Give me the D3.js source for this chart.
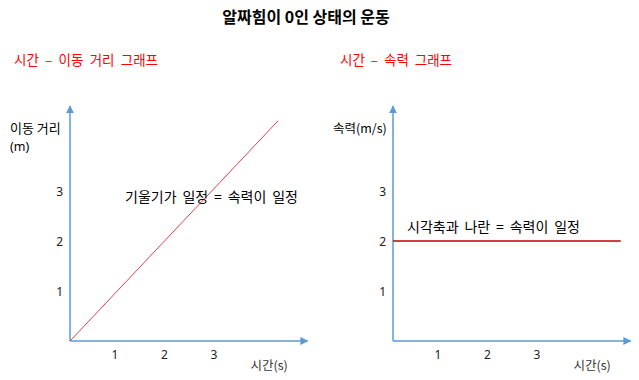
<!DOCTYPE html>
<html><head><meta charset="utf-8">
<script src="https://cdn.jsdelivr.net/npm/d3@7"></script>
<style>
html,body{margin:0;padding:0;background:#fff;}
svg{display:block;font-family:"Noto Sans CJK KR","Noto Sans",sans-serif;}
</style></head>
<body>
<svg id="chart" width="639" height="380"></svg>
<script>
// ---- data ----
const title = "알짜힘이 0인 상태의 운동";
const subtitles = ["시간 – 이동 거리 그래프", "시간 – 속력 그래프"];
const tickValues = [1, 2, 3];
const timeLabel = "시간(s)";
const distanceLabel = ["이동 거리", "(m)"];
const speedLabel = "속력(m/s)";
const distTime = [0, 4.2];
const distValue = [0, 4.4];
const speedTime = [0, 4.6];
const speedValue = [2, 2];
const notes = ["기울기가 일정 = 속력이 일정", "시각축과 나란 = 속력이 일정"];

const svg = d3.select("#chart");
const axisColor = "#5b9bd5";

// widen word gaps so a text spans the target width (reference font has wider spaces)
function fitWidth(sel, target){
  const node = sel.node();
  const n = (sel.text().match(/ /g) || []).length;
  if(!n) return;
  const w = node.getComputedTextLength();
  sel.attr("word-spacing", Math.max(0,(target - w)/n));
}

const defs = svg.append("defs");
defs.append("marker").attr("id","arr").attr("viewBox","0 0 10 10")
  .attr("refX",9).attr("refY",5).attr("markerWidth",8).attr("markerHeight",8)
  .attr("markerUnits","userSpaceOnUse").attr("orient","auto")
  .append("path").attr("d","M0,0L10,5L0,10Z").attr("fill",axisColor);

svg.append("text").attr("x",306).attr("y",23).attr("text-anchor","middle")
  .attr("font-size",16).attr("font-weight","bold").attr("fill","#000").text(title);

const panels = [
  {ox:70, sub:subtitles[0], subX:14, subW:144, t:distTime, v:distValue, color:"#e04050", w:1,
   note:notes[0], noteX:125, noteY:202},
  {ox:393, sub:subtitles[1], subX:340, subW:112, t:speedTime, v:speedValue, color:"#c00000", w:1.6,
   note:notes[1], noteX:407, noteY:232}
];

panels.forEach((p,i)=>{
  const g = svg.append("g");
  const x = d3.scaleLinear().domain([0,1]).range([p.ox, p.ox+49.5]);
  const y = d3.scaleLinear().domain([0,1]).range([341, 291]);

  const st = g.append("text").attr("x",p.subX).attr("y",65).attr("font-size",13.5)
    .attr("fill","#ff0000").text(p.sub);
  fitWidth(st, p.subW);

  // axes lines with arrows
  g.append("line").attr("x1",x(0)).attr("y1",y(0)).attr("x2",x(0)).attr("y2",y(4.7))
    .attr("stroke",axisColor).attr("stroke-width",1.5).attr("marker-end","url(#arr)");
  g.append("line").attr("x1",x(0)).attr("y1",y(0)).attr("x2",x(4.8)).attr("y2",y(0))
    .attr("stroke",axisColor).attr("stroke-width",1.5).attr("marker-end","url(#arr)");

  // tick labels via d3 axes
  const xa = g.append("g").attr("transform",`translate(-5,${y(0)})`)
    .call(d3.axisBottom(x).tickValues(tickValues).tickSize(0).tickPadding(9).tickFormat(d3.format("d")));
  const ya = g.append("g").attr("transform",`translate(${x(0)},1)`)
    .call(d3.axisLeft(y).tickValues(tickValues).tickSize(0).tickPadding(7).tickFormat(d3.format("d")));
  [xa,ya].forEach(a=>{
    a.select(".domain").remove();
    a.selectAll("text").attr("font-size",12).attr("fill","#222")
      .attr("font-family",'"Noto Sans","Noto Sans CJK KR",sans-serif');
  });

  // axis titles
  g.append("text").attr("x",x(4.4)).attr("y",370).attr("text-anchor","end")
    .attr("font-size",12.5).attr("fill","#333").text(timeLabel);

  // series line
  const line = d3.line().x(d=>x(d[0])).y(d=>y(d[1]));
  g.append("path").datum(d3.zip(p.t,p.v)).attr("d",line)
    .attr("fill","none").attr("stroke",p.color).attr("stroke-width",p.w);

  const nt = g.append("text").attr("x",p.noteX).attr("y",p.noteY).attr("font-size",14)
    .attr("fill","#000").text(p.note);
  fitWidth(nt, 173);
});

svg.append("text").attr("x",10).attr("y",133).attr("font-size",13).attr("fill","#000").text(distanceLabel[0]);
svg.append("text").attr("x",10).attr("y",151).attr("font-size",12.5).attr("fill","#000")
  .attr("font-family",'"Noto Sans",sans-serif').text(distanceLabel[1]);
svg.append("text").attr("x",333).attr("y",133).attr("font-size",12.5).attr("fill","#000").text(speedLabel);
</script>
</body></html>
